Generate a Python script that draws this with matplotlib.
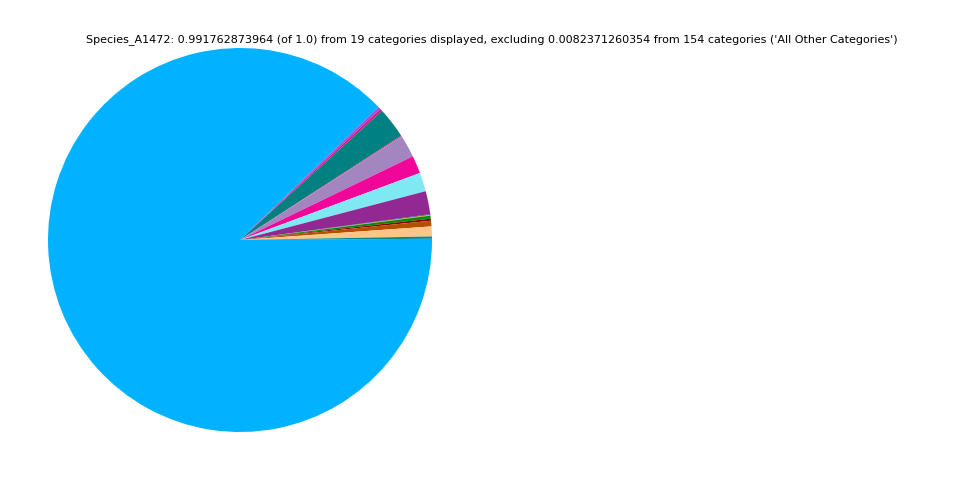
import matplotlib
matplotlib.use('Agg')
import matplotlib.pyplot as plt

# valores (ordem horária a partir de 0 graus)
categorias = ['Species_A1472', 'cat_02', 'cat_03', 'cat_04', 'cat_05', 'cat_06',
              'cat_07', 'cat_08', 'cat_09', 'cat_10', 'cat_11', 'cat_12',
              'cat_13', 'cat_14', 'cat_15', 'cat_16', 'cat_17', 'cat_18', 'cat_19']
valores = [0.8714, 0.0022, 0.0019, 0.0259, 0.0008, 0.0187, 0.0149, 0.0157,
           0.0193, 0.0006, 0.0006, 0.0025, 0.0017, 0.0047, 0.0083, 0.0019,
           0.0008, 0.0001, 0.0001]
cores = ['#00b2ff', '#9f4fe6', '#e0127a', '#008080', '#e02a80', '#a385c0',
         '#f0079a', '#7fe9f2', '#922891', '#3030c0', '#c0c000', '#0a8a0a',
         '#8b0000', '#b35000', '#ffc487', '#008b8b', '#00a0e0', '#404040',
         '#606060']

titulo = ("Species_A1472: 0.991762873964 (of 1.0) from 19 categories displayed, "
          "excluding 0.0082371260354 from 154 categories ('All Other Categories')")

fig = plt.figure(figsize=(9.6, 4.8), dpi=100)
ax = fig.add_axes([48 / 960, 48 / 480, 384 / 960, 384 / 480])
ax.pie(valores, colors=cores, startangle=0, counterclock=False,
       wedgeprops=dict(linewidth=0))
ax.set_xlim(-1, 1)
ax.set_ylim(-1, 1)
ax.set_aspect('equal')
ax.axis('off')

fig.text(492 / 960, 1 - 40 / 480, titulo, ha='center', va='center', fontsize=8)

fig.savefig('out.png', dpi=100)
